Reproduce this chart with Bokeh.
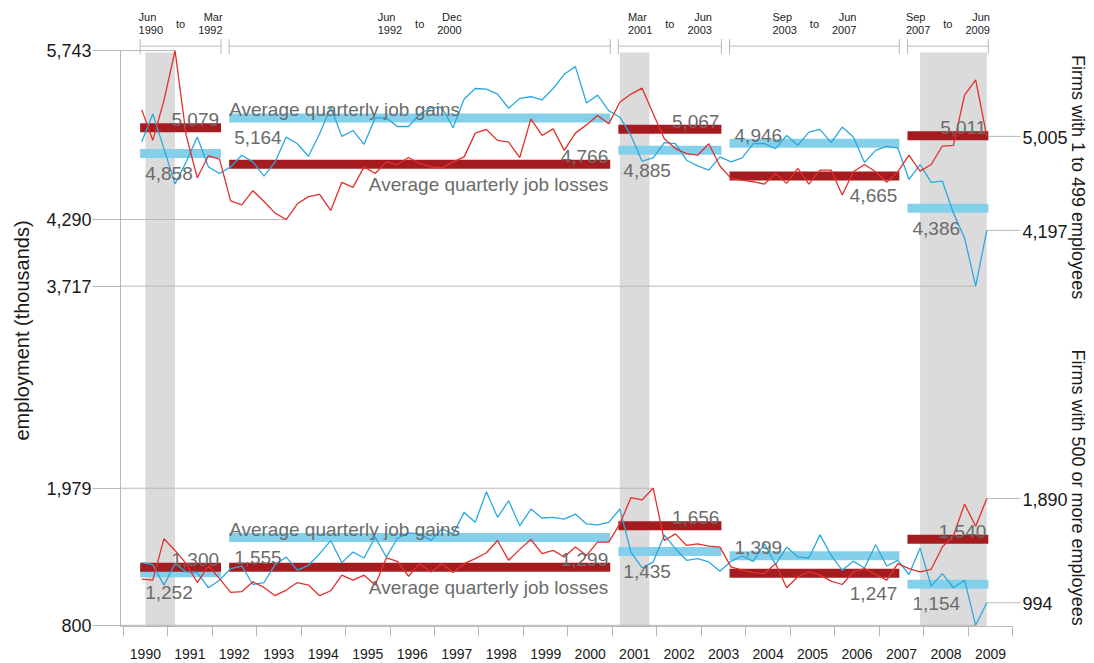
import math
import pandas as pd
from bokeh.plotting import figure
from bokeh.models import Range1d, FixedTicker, NumeralTickFormatter, Title
from bokeh.core.properties import value
from bokeh.embed import file_html
from bokeh.resources import INLINE

# ---------------- data ----------------
quarters = pd.period_range("1990Q2", "2009Q2", freq="Q")  # Jun 1990 .. Jun 2009

gains_small = [4956, 5198, 4900, 4595, 4786, 4999, 4743, 4686,
               4743, 4843, 4786, 4664, 4786, 4999, 4942, 4834, 5028, 5255, 5005, 5056, 4937, 5164, 5164, 5090, 5090, 5198, 5250,
               5255, 5079, 5326, 5417, 5412, 5369, 5247, 5332, 5346, 5318, 5417, 5539, 5605, 5292, 5360, 5227,
               5170, 5013, 4792, 4820, 4951, 4942, 4800, 4752, 4715,
               4829, 4786, 4820, 4942, 4942, 4900, 5013, 4928, 5042, 5065, 4951, 5085, 4999, 4780, 4885, 4920, 4905,
               4635, 4763, 4610, 4621, 4345, 4132, 3717, 4197]
losses_small = [5235, 4971, 5312, 5743, 5013, 4649, 4837, 4809,
                4450, 4416, 4538, 4445, 4345, 4290, 4425, 4487, 4507, 4368, 4610, 4567, 4743, 4686, 4786, 4763, 4823, 4772, 4743,
                4735, 4786, 4829, 5033, 5065, 4971, 4956, 4823, 5156, 5013, 5070, 4885, 5033, 5104, 5184, 5113,
                5298, 5369, 5420, 5200, 4985, 4900, 4857, 4843, 4942,
                4750, 4644, 4629, 4615, 4595, 4686, 4601, 4729, 4595, 4715, 4715, 4501, 4701, 4763, 4701, 4610, 4701,
                4843, 4706, 4763, 4922, 4928, 5360, 5491, 5005]
gains_large = [1339, 1322, 1146, 1330, 1259, 1254, 1123, 1188,
               1288, 1310, 1151, 1168, 1322, 1387, 1274, 1316, 1416, 1529, 1339, 1430, 1379, 1558, 1387, 1549, 1595, 1586, 1530,
               1629, 1586, 1771, 1686, 1948, 1729, 1871, 1657, 1800, 1723, 1729, 1714, 1757, 1672, 1663, 1686,
               1800, 1430, 1293, 1345, 1578, 1458, 1359, 1373, 1345,
               1265, 1350, 1396, 1350, 1501, 1322, 1473, 1387, 1379, 1578, 1401, 1274, 1350, 1293, 1493, 1310, 1359,
               1237, 1464, 1137, 1245, 1123, 1188, 800, 994]
losses_large = [1197, 1188, 1544, 1444, 1330, 1168, 1310, 1202,
                1083, 1089, 1174, 1126, 1055, 1103, 1168, 1146, 1055, 1097, 1231, 1188, 1231, 1146, 1379, 1350, 1222, 1330, 1259,
                1330, 1254, 1330, 1373, 1424, 1529, 1359, 1453, 1538, 1416, 1444, 1387, 1473, 1401, 1515, 1515,
                1672, 1899, 1879, 1979, 1529, 1586, 1487, 1501, 1481,
                1473, 1302, 1274, 1254, 1245, 1330, 1123, 1217, 1259, 1231, 1180, 1151, 1259, 1288, 1237, 1188, 1330,
                1288, 1259, 1282, 1473, 1572, 1842, 1652, 1890]

seg_start = ["1990-06", "1992-06", "2001-03", "2003-09", "2007-09"]
seg_end = ["1992-03", "2000-12", "2003-06", "2007-06", "2009-06"]
avg_gains_small = [4858, 5164, 4885, 4946, 4386]
avg_losses_small = [5079, 4766, 5067, 4665, 5011]
avg_gains_large = [1252, 1555, 1435, 1399, 1154]
avg_losses_large = [1300, 1299, 1656, 1247, 1540]
recessions = [("1990-07", "1991-03"), ("2001-03", "2001-11"), ("2007-12", "2009-06")]
years = list(range(1990, 2010))
group_titles = ["Firms with 1 to 499 employees", "Firms with 500 or more employees"]
gain_text = "Average quarterly job gains"
loss_text = "Average quarterly job losses"
y_title = "employment (thousands)"

# ---------------- layout helpers (page pixels -> data) ----------------
W, H = 1092, 661
X0, PXY = 122.65, 44.48      # page x of 1990.0, px per year
Y800, PXU = 629.8, 0.1172    # page y of 800, px per unit
FL, FR, FT, FB = 120, W, 0, 631

def xv(px): return 1990 + (px - X0) / PXY
def yv(py): return 800 + (Y800 - py) / PXU
def DX(px): return px / PXY
def DY(px): return px / PXU
def dec(ym):
    y, m = map(int, ym.split("-"))
    return y + (m - 1) / 12
MONTHS = ["Jan", "Feb", "Mar", "Apr", "May", "Jun", "Jul", "Aug", "Sep", "Oct", "Nov", "Dec"]

xq = [q.year + (q.quarter * 3 - 1) / 12 for q in quarters]

BLUE, RED = "#2aa9df", "#e3302a"
BLUE_BAR, RED_BAR = "#84cfea", "#a51c20"
GUIDE, SHADE, LABEL = "#b8b8b8", "#dbdbdb", "#6b6b6b"
FONT = value("Liberation Sans")

p = figure(width=W, height=H, output_backend="svg", toolbar_location=None,
           x_range=Range1d(xv(FL), xv(FR)), y_range=Range1d(yv(FB), yv(FT)),
           min_border_left=FL, min_border_right=0, min_border_top=0, min_border_bottom=H - FB)
p.grid.visible = False
p.outline_line_color = None

# x axis
xa = p.xaxis[0]
xa.ticker = FixedTicker(ticks=[y + 0.5 for y in years], minor_ticks=list(range(1990, 2011)))
xa.major_label_overrides = {y + 0.5: str(y) for y in years}
xa.major_tick_line_color = None
xa.major_tick_out = 0
xa.major_tick_in = 0
xa.minor_tick_out = 10
xa.minor_tick_in = 0
xa.minor_tick_line_color = GUIDE
xa.axis_line_color = GUIDE
xa.bounds = (xv(FL), 2010)
xa.major_label_standoff = 12
xa.major_label_text_font = "Liberation Sans"
xa.major_label_text_font_size = "14px"
xa.major_label_text_color = "#1a1a1a"

# y axis: extremes of the data
top_max = max(max(gains_small), max(losses_small))
extremes = [
    (top_max, xq[(losses_small if top_max in losses_small else gains_small).index(top_max)]),
    (min(losses_small), xq[losses_small.index(min(losses_small))]),
    (min(gains_small), xq[gains_small.index(min(gains_small))]),
    (max(losses_large), xq[losses_large.index(max(losses_large))]),
    (min(gains_large), xq[gains_large.index(min(gains_large))]),
]
ya = p.yaxis[0]
ya.ticker = FixedTicker(ticks=[v for v, _ in extremes], minor_ticks=[])
ya.formatter = NumeralTickFormatter(format="0,0")
ya.bounds = (yv(FB), top_max)
ya.major_tick_out = 28
ya.major_tick_in = 0
ya.major_tick_line_color = GUIDE
ya.axis_line_color = GUIDE
ya.major_label_standoff = 1
ya.major_label_text_font = "Liberation Sans"
ya.major_label_text_font_size = "18px"
ya.major_label_text_color = "#1a1a1a"
ya.major_label_text_baseline = "alphabetic"

# y title as a left-side title, starting (bottom end) at page y 445 like the reference
p.add_layout(Title(text=y_title, align="left", offset=FB - 445, vertical_align="top", standoff=18,
                   text_font="Liberation Sans", text_font_size="20px",
                   text_font_style="normal", text_color="#1a1a1a"), "left")

# recession shading
p.quad(left=[dec(a) for a, _ in recessions], right=[dec(b) for _, b in recessions],
       bottom=yv(FB), top=yv(52.5), fill_color=SHADE, line_color=None)

# guide lines from left axis to extremes
p.segment(x0=[xv(FL)] * len(extremes), x1=[x for _, x in extremes],
          y0=[v for v, _ in extremes], y1=[v for v, _ in extremes], line_color=GUIDE, line_width=1)

# right-side end labels
ends = [gains_small[-1], losses_small[-1], gains_large[-1], losses_large[-1]]
p.segment(x0=[xq[-1]] * 4, x1=[xv(1020)] * 4, y0=ends, y1=ends, line_color=GUIDE, line_width=1)
p.text(x=[xv(1022)] * 4, y=[v - DY(1) for v in ends], text=[f"{v:,}" for v in ends],
       text_font=FONT, text_font_size=value("18px"), text_color="#1a1a1a",
       text_align="left", text_baseline="alphabetic")

# header brackets
pad = DX(1.5)
bx0 = [dec(s) - pad for s in seg_start]
bx1 = [dec(e) + pad for e in seg_end]
p.segment(x0=bx0, x1=bx1, y0=yv(46), y1=yv(46), line_color=GUIDE, line_width=1)
p.segment(x0=bx0 + bx1, x1=bx0 + bx1, y0=yv(39), y1=yv(54), line_color=GUIDE, line_width=1)
hx, hy, ht, ha = [], [], [], []
for s, e, a, b in zip(seg_start, seg_end, bx0, bx1):
    c = (a + b) / 2
    sy_, sm_ = s.split("-")
    ey_, em_ = e.split("-")
    for xx, yy, tt, al in [(c - DX(42), yv(17), MONTHS[int(sm_) - 1], "left"),
                           (c - DX(42), yv(29.5), sy_, "left"),
                           (c, yv(23.5), "to", "center"),
                           (c + DX(42), yv(17), MONTHS[int(em_) - 1], "right"),
                           (c + DX(42), yv(29.5), ey_, "right")]:
        hx.append(xx); hy.append(yy); ht.append(tt); ha.append(al)
p.text(x=hx, y=hy, text=ht, text_align=ha, text_baseline="middle",
       text_font=FONT, text_font_size=value("11px"), text_color="#222222")

# average bars
for gains, losses in [(avg_gains_small, avg_losses_small), (avg_gains_large, avg_losses_large)]:
    p.segment(x0=bx0, x1=bx1, y0=gains, y1=gains, line_color=BLUE_BAR, line_width=9)
    p.segment(x0=bx0, x1=bx1, y0=losses, y1=losses, line_color=RED_BAR, line_width=9)

# data lines
p.line(xq, gains_small, line_color=BLUE, line_width=1.3)
p.line(xq, losses_small, line_color=RED, line_width=1.3)
p.line(xq, gains_large, line_color=BLUE, line_width=1.3)
p.line(xq, losses_large, line_color=RED, line_width=1.3)

# average labels
lx, ly, lt, la = [], [], [], []
def add(x, y, t, a):
    lx.append(x); ly.append(y); lt.append(t); la.append(a)
ABOVE, BELOW = DY(8), -DY(20)
for gains, losses in [(avg_gains_small, avg_losses_small), (avg_gains_large, avg_losses_large)]:
    for k, (g, l) in enumerate(zip(gains, losses)):
        gx, rx = bx0[k] + DX(5), bx1[k] - DX(2)
        if k == 1:
            add(bx0[k], g + ABOVE, gain_text, "left")
            add(gx, g + BELOW, f"{g:,}", "left")
            add(rx, l + ABOVE, f"{l:,}", "right")
            add(rx, l + BELOW, loss_text, "right")
        else:
            add(gx, g + (ABOVE if g > l else BELOW), f"{g:,}", "left")
            add(rx, l + (ABOVE if l > g else BELOW), f"{l:,}", "right")
p.text(x=lx, y=ly, text=lt, text_align=la, text_baseline="alphabetic",
       text_font=FONT, text_font_size=value("19px"), text_color=LABEL)

# group titles on the right
p.text(x=[xv(1077)] * 2, y=[yv(178), yv(491)], text=group_titles, angle=-math.pi / 2,
       text_align="center", text_baseline="middle",
       text_font=FONT, text_font_size=value("18px"), text_color="#1a1a1a")

open("out.html", "w").write(file_html(p, INLINE))
